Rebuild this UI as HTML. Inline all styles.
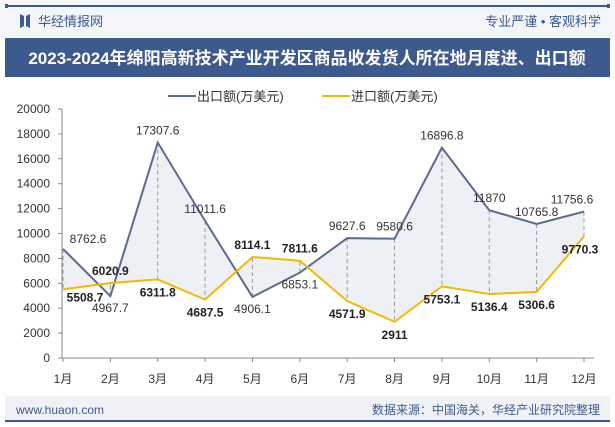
<!DOCTYPE html>
<html><head><meta charset="utf-8"><style>
body{margin:0;width:615px;height:427px;overflow:hidden;background:#fff;font-family:"Liberation Sans","Noto Sans CJK SC",sans-serif;}
</style></head><body>
<svg width="615" height="427" xmlns="http://www.w3.org/2000/svg" style="position:absolute;left:0;top:0" font-family="Liberation Sans, Noto Sans CJK SC, sans-serif">
<g>
<rect x="0" y="0" width="615" height="37" fill="#f4f5f8"/>
<rect x="5" y="5" width="605" height="2" fill="#3d5a8f"/>
<rect x="5" y="4" width="3" height="4" fill="#3d5a8f"/><rect x="607" y="4" width="3" height="4" fill="#3d5a8f"/>
<path d="M20 14 L24 16 L24 26 L20 28 Z M30 14 L26 16 L26 26 L30 28 Z" fill="#3d5a8f"/>
<text x="38" y="26" font-size="13" fill="#3d5a8f">华经情报网</text>
<text x="601" y="26" font-size="13" fill="#3d5a8f" text-anchor="end">专业严谨 • 客观科学</text>
</g>
<rect x="5" y="38" width="605" height="39" fill="#3d5a8f"/>
<text x="307" y="64" font-size="17" font-weight="bold" fill="#fff" text-anchor="middle">2023-2024年绵阳高新技术产业开发区商品收发货人所在地月度进、出口额</text>
<g>
<line x1="168" y1="96" x2="196" y2="96" stroke="#5d6b8e" stroke-width="2"/>
<text x="197" y="101" font-size="13" fill="#333">出口额(万美元)</text>
<line x1="322" y1="96" x2="350" y2="96" stroke="#f5b800" stroke-width="2"/>
<text x="351" y="101" font-size="13" fill="#333">进口额(万美元)</text>
</g>
<g id="chart"></g>
<g>
<rect x="5" y="396" width="605" height="26" fill="#f1f2f5"/>
<rect x="5" y="420" width="605" height="2" fill="#3d5a8f"/>
<text x="16" y="414" font-size="12" fill="#3d5a8f">www.huaon.com</text>
<text x="600" y="414" font-size="12" fill="#3d5a8f" text-anchor="end">数据来源：中国海关，华经产业研究院整理</text>
</g>
</svg>
<script>
const months=["1月","2月","3月","4月","5月","6月","7月","8月","9月","10月","11月","12月"];
const exportVals=[8762.6,4967.7,17307.6,11011.6,4906.1,6853.1,9627.6,9580.6,16896.8,11870,10765.8,11756.6];
const importVals=[5508.7,6020.9,6311.8,4687.5,8114.1,7811.6,4571.9,2911,5753.1,5136.4,5306.6,9770.3];
const exportLabels=["8762.6","4967.7","17307.6","11011.6","4906.1","6853.1","9627.6","9580.6","16896.8","11870","10765.8","11756.6"];
const importLabels=["5508.7","6020.9","6311.8","4687.5","8114.1","7811.6","4571.9","2911","5753.1","5136.4","5306.6","9770.3"];
const yTicks=[0,2000,4000,6000,8000,10000,12000,14000,16000,18000,20000];
const NS="http://www.w3.org/2000/svg";
const g=document.getElementById('chart');
const x=i=>63+i*(584-63)/11;
const y=v=>358-v*(358-109)/20000;
function mk(t,a,p){const e=document.createElementNS(NS,t);for(const k in a)e.setAttribute(k,a[k]);(p||g).appendChild(e);return e;}
let ax=mk('line',{x1:62,y1:109,x2:62,y2:358,stroke:'#888'});


let xa=mk('line',{x1:62,y1:358,x2:594,y2:358,stroke:'#888'});


yTicks.forEach(v=>{
 mk('line',{x1:58,y1:y(v),x2:62,y2:y(v),stroke:'#888'});
 const t=mk('text',{x:50,y:y(v)+4,'font-size':12,fill:'#333','text-anchor':'end'});t.textContent=v;
 
 
});
months.forEach((m,i)=>{
 mk('line',{x1:x(i),y1:358,x2:x(i),y2:362,stroke:'#888'});
 const t=mk('text',{x:x(i),y:383,'font-size':12,fill:'#333','text-anchor':'middle'});t.textContent=m;
 
 
});
let d='M'+exportVals.map((v,i)=>x(i)+','+y(v)).join(' L')+' L'+importVals.map((v,i)=>x(i)+','+y(v)).reverse().join(' L')+'Z';
let area=mk('path',{d:d,fill:'#e9ecf2','fill-opacity':0.8});


exportVals.forEach((v,i)=>{const l=mk('line',{x1:x(i),y1:y(v),x2:x(i),y2:y(importVals[i]),stroke:'#999','stroke-dasharray':'4,3'});
 
 });
let le=mk('polyline',{points:exportVals.map((v,i)=>x(i)+','+y(v)).join(' '),fill:'none',stroke:'#5d6b8e','stroke-width':2});


let li=mk('polyline',{points:importVals.map((v,i)=>x(i)+','+y(v)).join(' '),fill:'none',stroke:'#f5b800','stroke-width':2});


exportVals.forEach((v,i)=>{
 const above=v>=importVals[i];
 let tx=x(i)+(i==11?-12:0), ty=above?y(v)-8:y(v)+16;
 if(i==0){tx=x(i)+25;ty=y(v)-6;}
 const t=mk('text',{x:tx,y:ty,'font-size':12,fill:'#333','text-anchor':'middle'});t.textContent=exportLabels[i];
 
 
});
importVals.forEach((v,i)=>{
 const above=v>exportVals[i];
 let tx=x(i)+(i==11?-4:0), ty=above?y(v)-8:y(v)+17;
 if(i==0){tx=x(i)+22;ty=y(v)+12;}
 const t=mk('text',{x:tx,y:ty,'font-size':12,'font-weight':'bold',fill:'#222','text-anchor':'middle'});t.textContent=importLabels[i];
 
 
});
</script>
</body></html>
